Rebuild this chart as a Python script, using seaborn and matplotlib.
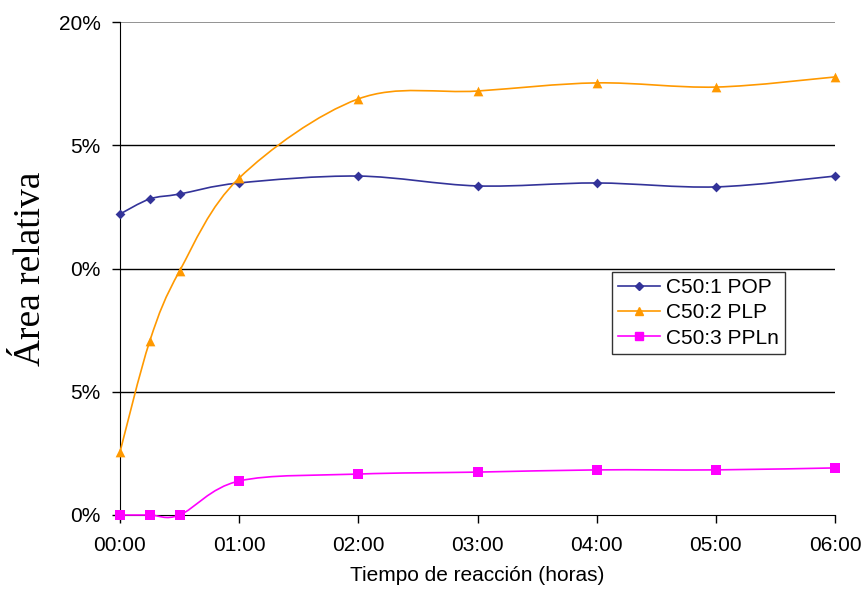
import numpy as np
import pandas as pd
import matplotlib
matplotlib.use("Agg")
import matplotlib.pyplot as plt
from matplotlib.path import Path
from matplotlib.patches import PathPatch
from matplotlib.lines import Line2D
import seaborn as sns

# reaction time in hours
hours = [0, 0.25, 0.5, 1, 2, 3, 4, 5, 6]
pop = [0.1221, 0.1282, 0.1302, 0.1347, 0.1375, 0.1335, 0.1347, 0.1331, 0.1375]
plp = [0.0256, 0.0706, 0.0990, 0.1367, 0.1688, 0.1720, 0.1753, 0.1736, 0.1777]
ppln = [0.0, 0.0, 0.0, 0.0138, 0.0166, 0.0174, 0.0183, 0.0183, 0.0191]

series_names = ["C50:1 POP", "C50:2 PLP", "C50:3 PPLn"]
x_ticks = [0, 1, 2, 3, 4, 5, 6]
x_labels = ["00:00", "01:00", "02:00", "03:00", "04:00", "05:00", "06:00"]
y_ticks = [0, 0.05, 0.10, 0.15, 0.20]
y_labels = ["0%", "5%", "0%", "5%", "20%"]

colors = ["#333399", "#FF9900", "#FF00FF"]
markers = ["D", "^", "s"]
msizes = [5, 7, 7]

df = pd.DataFrame({
    "hours": hours * 3,
    "value": pop + plp + ppln,
    "series": [s for s in series_names for _ in hours],
})


def smooth_path(xs, ys):
    # excel-style smoothed line: cubic bezier through the data points
    pts = np.column_stack([xs, ys])
    verts = [pts[0]]
    codes = [Path.MOVETO]
    n = len(pts)
    for i in range(n - 1):
        p0 = pts[i - 1] if i > 0 else pts[i]
        p1 = pts[i]
        p2 = pts[i + 1]
        p3 = pts[i + 2] if i + 2 < n else pts[i + 1]
        c1 = p1 + (p2 - p0) / 6.0
        c2 = p2 - (p3 - p1) / 6.0
        verts += [c1, c2, p2]
        codes += [Path.CURVE4] * 3
    return Path(verts, codes)


plt.rcParams["font.family"] = ["Liberation Sans", "DejaVu Sans"]
fig = plt.figure(figsize=(8.64, 5.89), dpi=100)
ax = fig.add_axes([120 / 864, 1 - 515 / 589, 715 / 864, 493 / 589])

for name, c, data in zip(series_names, colors, [pop, plp, ppln]):
    ax.add_patch(PathPatch(smooth_path(hours, data), facecolor="none",
                           edgecolor=c, lw=1.2, clip_on=False, zorder=3))

for name, c, m, ms in zip(series_names, colors, markers, msizes):
    sub = df[df["series"] == name]
    sns.scatterplot(data=sub, x="hours", y="value", ax=ax, color=c, marker=m,
                    s=ms ** 2, edgecolor=c, linewidth=0, zorder=4, clip_on=False,
                    legend=False)

ax.set_xlim(0, 6)
ax.set_ylim(0, 0.20)
ax.set_xticks(x_ticks)
ax.set_xticklabels(x_labels, fontsize=15)
ax.set_yticks(y_ticks)
ax.set_yticklabels(y_labels, fontsize=15)
ax.tick_params(axis="both", direction="out", length=6, width=1, color="black")
ax.tick_params(axis="x", pad=9)
ax.tick_params(axis="y", pad=8)

for y in [0.05, 0.10, 0.15]:
    ax.axhline(y, color="black", lw=1, zorder=1)
ax.axhline(0.20, color="#808080", lw=1.2, zorder=1)

ax.spines["top"].set_visible(False)
ax.spines["right"].set_visible(False)
ax.spines["left"].set_color("black")
ax.spines["bottom"].set_color("black")

ax.set_xlabel("Tiempo de reacción (horas)", fontsize=15, labelpad=8)
ax.set_ylabel("Área relativa", fontsize=27, family=["Liberation Serif"], labelpad=8)

handles = [Line2D([0], [0], color=c, marker=m, markersize=ms - 1, lw=1.2)
           for c, m, ms in zip(colors, markers, msizes)]
leg = ax.legend(handles, series_names, loc="upper left", bbox_to_anchor=(0.688, 0.493),
                borderaxespad=0, fontsize=15, frameon=True, fancybox=False,
                handlelength=2.0, handletextpad=0.3, labelspacing=0.3,
                borderpad=0.3)
leg.get_frame().set_edgecolor("black")
leg.get_frame().set_linewidth(1)

fig.savefig("out.png", dpi=100)
